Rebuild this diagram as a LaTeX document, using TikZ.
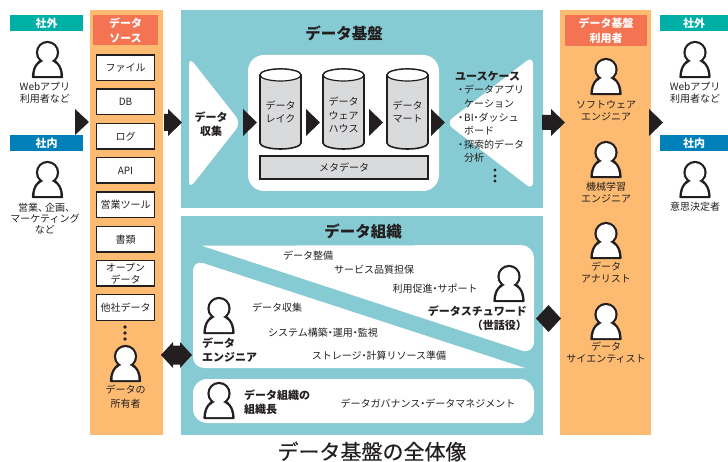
\documentclass[tikz,border=0pt]{standalone}
\usepackage{fontspec}
\setmainfont{Noto Sans CJK JP}
\newfontfamily\capfont[FakeBold=0.35]{Noto Sans CJK JP}
\definecolor{ink}{HTML}{231F20}
\definecolor{panelorange}{HTML}{FDBB72}
\definecolor{panelteal}{HTML}{86CAD3}
\definecolor{tagteal}{HTML}{00AFA5}
\definecolor{tagblue}{HTML}{0080B8}
\definecolor{headred}{HTML}{F47353}
\definecolor{drumgrey}{HTML}{D9DADB}
\newcommand\nd{\kern-2.5pt・\kern-2.5pt}
\newcommand\fs[2]{\fontsize{#1}{#2}\selectfont}
\tikzset{
  txt/.style={inner sep=0pt,text=ink,align=center,font=\fs{10}{12}},
  txtl/.style={txt,anchor=west,align=left},
  bold/.style={inner sep=0pt,text=ink,align=center,font=\fs{11}{14}\bfseries},
  boldl/.style={bold,anchor=west,align=left},
  title/.style={inner sep=0pt,text=ink,font=\fs{15.5}{18}\bfseries},
  tag/.style={inner sep=0pt,text=white,font=\fs{11}{13}\bfseries},
  head/.style={inner sep=0pt,text=white,align=center,font=\fs{11}{15}\bfseries},
  srcbox/.style={draw=ink,line width=1.5pt,fill=white,inner sep=0pt,text=ink,align=center,font=\fs{10}{12}},
  arrowfill/.style={fill=ink,draw=none},
  person/.pic={
    \draw[ink,line width=2.2pt,fill=ink,line join=round] (-14.5,36) .. controls (-14.5,26) and (-9,18) .. (0,18) .. controls (9,18) and (14.5,26) .. (14.5,36) -- cycle;
    \draw[ink,line width=2.2pt,fill=ink] (0,11.5) circle (10.5);
    \fill[white] (-13,35) .. controls (-13,26) and (-8,19.5) .. (0,19.5) .. controls (8,19.5) and (13,26) .. (13,35) -- cycle;
    \fill[white] (0,11.5) circle (9.4);
  }
}
\newcommand\drum[5]{% x-left, x-right, top, bottom, name
  \draw[ink,line width=1.6pt,fill=drumgrey] (#1,#3+6) -- (#1,#4-6) arc[start angle=180,end angle=360,x radius={(#2-#1)/2},y radius=-6] -- (#2,#3+6) arc[start angle=0,end angle=180,x radius={(#2-#1)/2},y radius=-6] -- cycle;
  \draw[ink,line width=1.2pt,fill=white] ({(#1+#2)/2},#3+6) ellipse[x radius={(#2-#1)/2},y radius=6];
  \coordinate (#5) at ({(#1+#2)/2},{(#3+#4)/2});
}
\begin{document}
\begin{tikzpicture}[x=1pt,y=-1pt]
\useasboundingbox (0,0) rectangle (728,462);
\fill[white] (0,0) rectangle (728,462);

% panels
\fill[panelorange] (90,10) rectangle (163,435);
\fill[panelorange] (560,10) rectangle (651,435);
\fill[panelteal] (181,10) rectangle (543,208);
\fill[panelteal] (181,216) rectangle (543,435);

% left column
\node[tag,fill=tagteal,minimum width=73pt,minimum height=16pt] (tagOutL) at (46.5,23) {社外};
\pic at (47.5,41) {person};
\node[txt] (webL) at (45,92.5) {Webアプリ\\利用者など};
\node[tag,fill=tagblue,minimum width=73pt,minimum height=16pt] (tagInL) at (46.5,143) {社内};
\pic at (47.5,161) {person};
\node[txt,font=\fs{10}{11}] (salesL) at (45,219) {営業、\kern-3pt 企画、\kern-3pt\\マーケティング\\など};

% data sources
\node[head,fill=headred,minimum width=65pt,minimum height=30pt] (srcHead) at (125.5,30) {データ\\ソース};
\foreach \nm/\yy/\lab in {s1/68/ファイル,s2/102/DB,s3/136.5/ログ,s4/170.5/API,s5/205/営業ツール,s6/239.5/書類,s7/273.5/{オープン\\データ},s8/307.5/他社データ}{
  \node[srcbox,minimum width=58pt,minimum height=25.5pt] (\nm) at (125.5,\yy) {\lab};
}
\foreach \yy in {327,333,339}{\fill[ink] (125,\yy) circle (1.9);}
\pic at (125.5,345) {person};
\node[txt,font=\fs{10}{14}] (owner) at (125.5,397) {データの\\所有者};

% left arrows
\fill[arrowfill] (75,109) -- (89,122) -- (75,135) -- cycle;
\fill[arrowfill] (164,114) -- (168,114) -- (168,109) -- (182,122.5) -- (168,136) -- (168,131) -- (164,131) -- cycle;
\fill[arrowfill] (161,355) -- (173,342) -- (173,345.5) -- (180,345.5) -- (180,342) -- (192,355) -- (180,368) -- (180,364.5) -- (173,364.5) -- (173,368) -- cycle;

% data platform
\node[title] (platTitle) at (344,33) {データ基盤};
\fill[white,rounded corners=8pt] (189,57) -- (241,123) -- (189,189) -- cycle;
\node[bold] (collect) at (211,124) {データ\\収集};
\fill[white,rounded corners=16pt] (248,55) rectangle (439,191);
\drum{260}{301}{69}{149}{d1}
\drum{323}{364}{69}{149}{d2}
\drum{387}{428}{69}{149}{d3}
\node[txt,font=\fs{10}{13}] (lake) at (d1) [yshift=-3pt] {データ\\レイク};
\node[txt,font=\fs{10}{13.5}] (dwh) at (d2) [yshift=-6pt] {データ\\ウェア\\ハウス};
\node[txt,font=\fs{10}{13}] (mart) at (d3) [yshift=-3pt] {データ\\マート};
\node[draw=ink,line width=1.4pt,fill=drumgrey,minimum width=168pt,minimum height=23pt,inner sep=0pt,text=ink,font=\fs{10}{12}] (meta) at (344,167.5) {メタデータ};
\foreach \xx in {243,306,369,431}{
  \fill[arrowfill] (\xx,109) -- (\xx+14,122.5) -- (\xx,136) -- cycle;
}
\fill[white,rounded corners=8pt] (533,56) -- (446,123) -- (533,190) -- cycle;
\node[boldl] (use) at (455,76) {ユースケース};
\node[txtl,font=\fs{10}{13.6}] (useList) at (455.5,124) {・\kern-1.5pt データアプリ\\\hspace{8.5pt}ケーション\\・\kern-1.5pt BI\nd ダッシュ\\\hspace{8.5pt}ボード\\・\kern-1.5pt 探索的データ\\\hspace{8.5pt}分析};
\foreach \yy in {170,176,181}{\fill[ink] (495,\yy) circle (1.7);}

% data organisation
\node[title] (orgTitle) at (363,231) {データ組織};
\fill[white] (201.7,245.7) [rounded corners=13pt] -- (534,245) -- (534,354.6) [sharp corners] -- cycle;
\fill[white] (525,368) [rounded corners=11pt] -- (193,368) -- (193,259.8) [sharp corners] -- cycle;
\fill[white,rounded corners=14pt] (193,379) rectangle (534,423);

\node[txt] (o1) at (308,256) {データ整備};
\node[txt] (o2) at (374,270) {サービス品質担保};
\node[txt] (o3) at (435,289) {利用促進\nd サポート};
\pic at (509,265) {person};
\node[bold,align=right,anchor=east] (steward) at (527,318) {データスチュワード\\（世話役）};
\node[txt] (o4) at (277,308) {データ収集};
\node[txt] (o5) at (323,333) {システム構築\nd 運用\nd 監視};
\node[txt] (o6) at (379,356) {ストレージ\nd 計算リソース準備};
\pic at (219,297) {person};
\node[boldl] (engineer) at (202,350) {データ\\エンジニア};
\pic at (219,382) {person};
\node[boldl] (chief) at (244,402) {データ組織の\\組織長};
\node[txt] (o7) at (428,404) {データガバナンス\nd データマネジメント};

\node[inner sep=0pt,text=ink,font=\capfont\fs{21}{24}] (caption) at (372,451.5) {データ基盤の全体像};

% right arrows
\fill[arrowfill] (542,115) -- (551,115) -- (551,109) -- (565,122.5) -- (551,136) -- (551,130) -- (542,130) -- cycle;
\fill[arrowfill] (536,318.5) -- (548.5,305) -- (561,318.5) -- (548.5,332) -- cycle;
\fill[arrowfill] (649,109) -- (663,122.5) -- (649,136) -- cycle;

% users
\node[head,fill=headred,minimum width=82pt,minimum height=31pt] (usrHead) at (606,30.5) {データ基盤\\利用者};
\pic at (606,58) {person};
\node[txt,font=\fs{10}{11.5}] (u1) at (606,110.5) {ソフトウェア\\エンジニア};
\pic at (606,141) {person};
\node[txt,font=\fs{10}{11.5}] (u2) at (606,192.5) {機械学習\\エンジニア};
\pic at (606,222) {person};
\node[txt,font=\fs{10}{11.5}] (u3) at (606,272.5) {データ\\アナリスト};
\pic at (606,303) {person};
\node[txt,font=\fs{10}{11.5}] (u4) at (606,352.5) {データ\\サイエンティスト};

% right column
\node[tag,fill=tagteal,minimum width=68pt,minimum height=16pt] (tagOutR) at (694,23) {社外};
\pic at (695,41) {person};
\node[txt] (webR) at (695,92.5) {Webアプリ\\利用者など};
\node[tag,fill=tagblue,minimum width=68pt,minimum height=16pt] (tagInR) at (694,143) {社内};
\pic at (695,161) {person};
\node[txt] (deciders) at (695,207) {意思決定者};
\end{tikzpicture}
\end{document}
